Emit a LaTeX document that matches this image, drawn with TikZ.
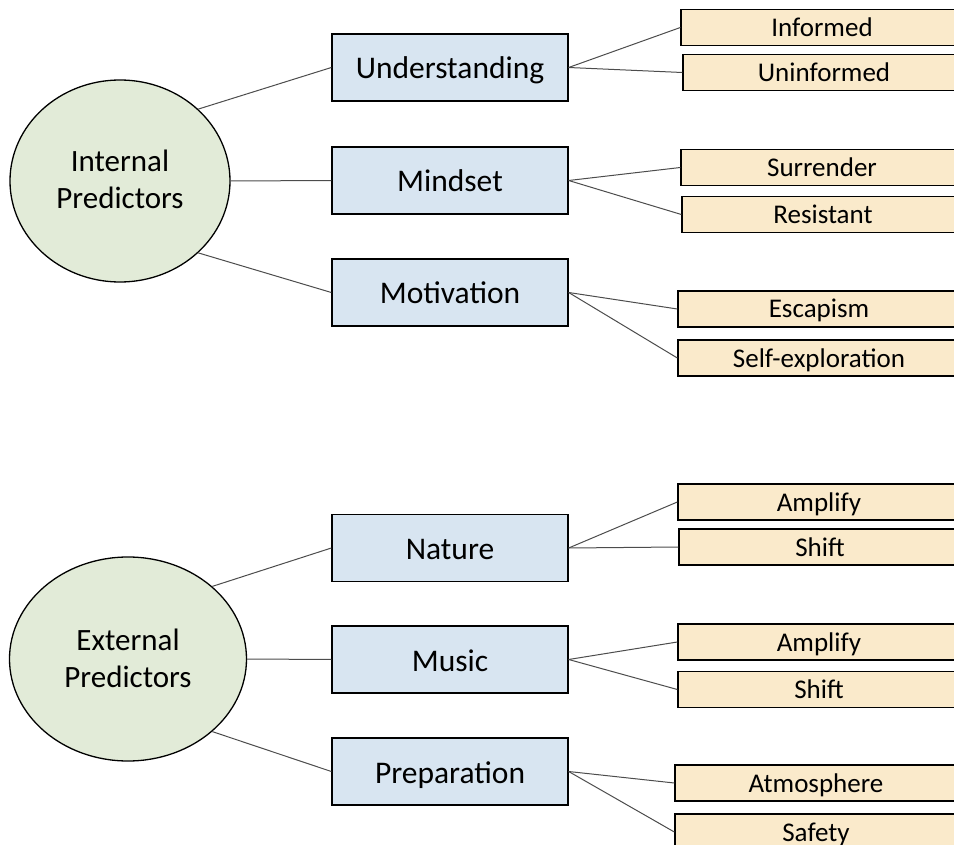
\documentclass[tikz,border=0pt]{standalone}
\usepackage{fontspec}
\setmainfont{Carlito}
\usetikzlibrary{positioning, shapes.geometric}
\definecolor{PredGreen}{HTML}{E2EBD8}
\definecolor{FactBlue}{HTML}{D8E5F1}
\definecolor{LevelTan}{HTML}{FAEACB}
\tikzstyle{Predictor} = [
ellipse, draw, line width=1.3pt, fill=PredGreen,
inner sep=0pt, align=center,
text height=60pt, text depth=4pt,
font=\fontsize{31}{37}\selectfont]
\tikzstyle{Factor} = [
rectangle, draw, line width=1.3pt, fill=FactBlue,
minimum width=236pt, minimum height=67pt, inner sep=0pt,
text height=27pt, text depth=4pt,
font=\fontsize{31.5}{36}\selectfont]
\tikzstyle{Level} = [
rectangle, draw, line width=1.3pt, fill=LevelTan,
minimum width=282pt, minimum height=36pt, inner sep=0pt,
text height=22pt, text depth=4pt,
font=\fontsize{27}{30}\selectfont]
\tikzstyle{Link} = [draw=black!70, line width=1pt]

\begin{document}
\begin{tikzpicture}[x=1pt, y=-1pt]
    \useasboundingbox (0,0) rectangle (954,845);

    \node [Predictor, minimum width=220pt, minimum height=202pt](1) at (120,181){Internal\\Predictors};
    \node [Predictor, minimum width=237pt, minimum height=204pt](2) at (128,659){External\\Predictors};

    \node [Factor](3) at (450,67.5){Understanding};
    \node [Factor](4) at (450,180.5){Mindset};
    \node [Factor](5) at (450,292.5){Motivation};
    \node [Factor](6) at (450,548){Nature};
    \node [Factor](7) at (450,659.5){Music};
    \node [Factor](8) at (450,771.5){Preparation};

    \node [Level](9) at (822,27.5){Informed};
    \node [Level](10) at (824,72.5){Uninformed};
    \node [Level](11) at (822,167.5){Surrender};
    \node [Level](12) at (823,214.5){Resistant};
    \node [Level](13) at (819,309){Escapism};
    \node [Level](14) at (819,358){Self-exploration};
    \node [Level](15) at (819,502){Amplify};
    \node [Level](16) at (820,547){Shift};
    \node [Level](17) at (819,642){Amplify};
    \node [Level](18) at (819,689.5){Shift};
    \node [Level](19) at (816,783){Atmosphere};
    \node [Level](20) at (816,832){Safety};

    \draw [Link] (1.north east) -- (3.west);
    \draw [Link] (1.east) -- (4.west);
    \draw [Link] (1.south east) -- (5.west);
    \draw [Link] (2.north east) -- (6.west);
    \draw [Link] (2.east) -- (7.west);
    \draw [Link] (2.south east) -- (8.west);

    \draw [Link] (3.east) -- (9.west);
    \draw [Link] (3.east) -- (10.west);
    \draw [Link] (4.east) -- (11.west);
    \draw [Link] (4.east) -- (12.west);
    \draw [Link] (5.east) -- (13.west);
    \draw [Link] (5.east) -- (14.west);
    \draw [Link] (6.east) -- (15.west);
    \draw [Link] (6.east) -- (16.west);
    \draw [Link] (7.east) -- (17.west);
    \draw [Link] (7.east) -- (18.west);
    \draw [Link] (8.east) -- (19.west);
    \draw [Link] (8.east) -- (20.west);
\end{tikzpicture}
\end{document}
